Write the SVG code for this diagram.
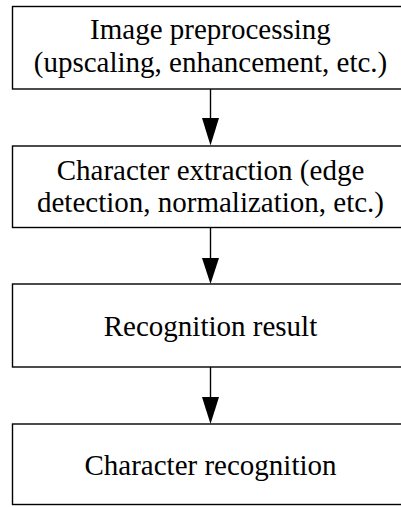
<svg xmlns="http://www.w3.org/2000/svg" width="401" height="507" viewBox="0 0 401 507">
<defs>
<style>
.box{fill:#fff;stroke:#000;stroke-width:1.4}
.lbl{font-family:"Liberation Serif","Times New Roman",serif;font-size:29px;fill:#000;text-anchor:middle}
.edge{stroke:#000;stroke-width:1.4;fill:none}
.head{fill:#000;stroke:none}
</style>
</defs>
<rect width="401" height="507" fill="#fff"/>
<g id="node1">
<rect class="box" x="12.5" y="6.5" width="397" height="82.5"/>
<text class="lbl" x="210.5" y="39">Image preprocessing</text>
<text class="lbl" x="210.5" y="72">(upscaling, enhancement, etc.)</text>
</g>
<g id="node2">
<rect class="box" x="12.5" y="146" width="397" height="81.5"/>
<text class="lbl" x="210.5" y="179.5">Character extraction (edge</text>
<text class="lbl" x="210.5" y="212">detection, normalization, etc.)</text>
</g>
<g id="node3">
<rect class="box" x="12.5" y="284" width="397" height="83"/>
<text class="lbl" x="210.5" y="335.5">Recognition result</text>
</g>
<g id="node4">
<rect class="box" x="12.5" y="424" width="397" height="80.5"/>
<text class="lbl" x="210.5" y="474.5">Character recognition</text>
</g>
<g id="connectors">
<line class="edge" x1="210.5" y1="89" x2="210.5" y2="119"/>
<polygon class="head" points="202,118 219,118 210.5,145.5"/>
<line class="edge" x1="210.5" y1="227.5" x2="210.5" y2="259"/>
<polygon class="head" points="202,258 219,258 210.5,284"/>
<line class="edge" x1="210.5" y1="367" x2="210.5" y2="398"/>
<polygon class="head" points="202,397 219,397 210.5,424"/>
</g>
</svg>
